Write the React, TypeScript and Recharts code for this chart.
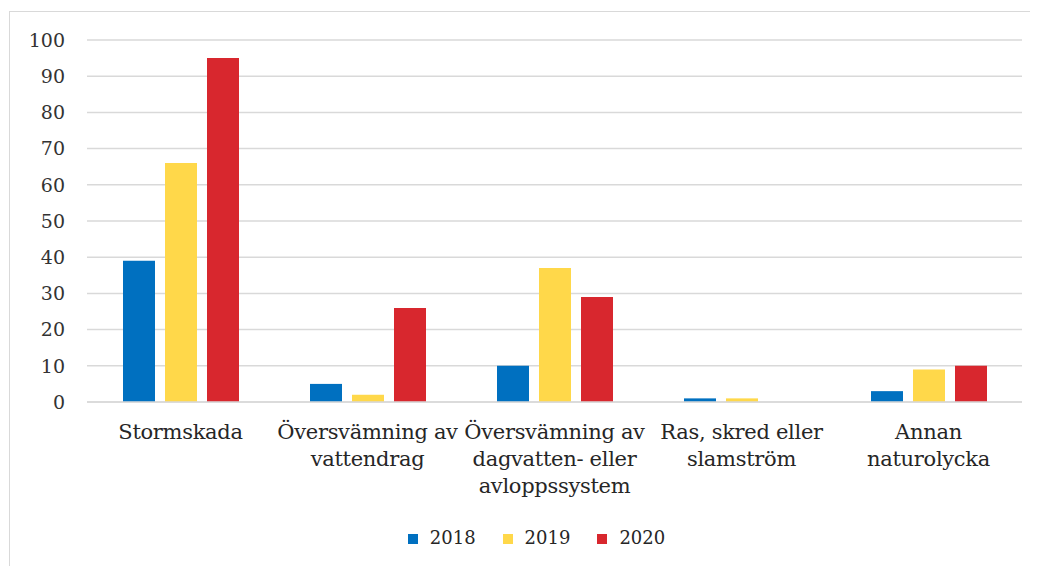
import React from 'react'
import { BarChart, Bar, XAxis, YAxis, CartesianGrid, Legend } from 'recharts'

const categories = [
  'Stormskada',
  'Översvämning av\nvattendrag',
  'Översvämning av\ndagvatten- eller\navloppssystem',
  'Ras, skred eller\nslamström',
  'Annan\nnaturolycka',
]
const values2018 = [39, 5, 10, 1, 3]
const values2019 = [66, 2, 37, 1, 9]
const values2020 = [95, 26, 29, 0, 10]
const yTicks = [0, 10, 20, 30, 40, 50, 60, 70, 80, 90, 100]

const SERIES = [
  { key: '2018', color: '#0070C0' },
  { key: '2019', color: '#FFD84A' },
  { key: '2020', color: '#D8272E' },
]

const data = categories.map((name, i) => ({
  name,
  '2018': values2018[i],
  '2019': values2019[i],
  '2020': values2020[i],
}))

const FONT = '"DejaVu Serif", serif'

function CategoryTick({ x, y, payload }: any) {
  const lines = String(payload.value).split('\n')
  return (
    <text
      x={x}
      y={y}
      textAnchor='middle'
      fill='#262626'
      fontFamily={FONT}
      fontSize={21}
      letterSpacing={-0.3}
    >
      {lines.map((ln, i) => (
        <tspan key={i} x={x} dy={i === 0 ? 29 : 27}>
          {ln}
        </tspan>
      ))}
    </text>
  )
}

export default function App() {
  return (
    <div
      style={{
        marginLeft: 1,
        marginTop: 3,
        width: 1040,
        height: 560,
        borderTop: '1px solid #d9d9d9',
        borderLeft: '1px solid #d9d9d9',
        background: '#fff',
      }}
    >
      <BarChart
        width={1026}
        height={552}
        data={data}
        margin={{ top: 28, right: 14, left: 0, bottom: 22 }}
        barSize={32}
        barGap={10}
      >
        <CartesianGrid vertical={false} stroke='#d9d9d9' strokeWidth={1.5} />
        <XAxis
          dataKey='name'
          height={110}
          interval={0}
          tickLine={false}
          axisLine={{ stroke: '#d9d9d9', strokeWidth: 1.5 }}
          tick={<CategoryTick />}
        />
        <YAxis
          width={77}
          domain={[0, 100]}
          ticks={yTicks}
          interval={0}
          axisLine={false}
          tickLine={false}
          tickMargin={16}
          tick={{ fill: '#333', fontFamily: FONT, fontSize: 19 }}
        />
        <Legend
          iconType='square'
          iconSize={10}
          wrapperStyle={{
            top: 511,
            left: 44,
            width: 992,
            height: 30,
            lineHeight: '30px',
            fontFamily: FONT,
            fontSize: 18,
          }}
          formatter={(v) => (
            <span style={{ color: '#262626', marginLeft: 8, marginRight: 17 }}>{v}</span>
          )}
        />
        {SERIES.map((s) => (
          <Bar key={s.key} dataKey={s.key} fill={s.color} isAnimationActive={false} />
        ))}
      </BarChart>
    </div>
  )
}
